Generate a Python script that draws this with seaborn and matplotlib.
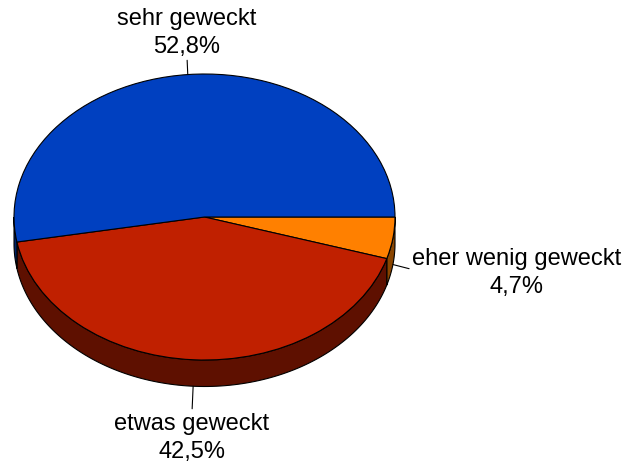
"""
3D-style pie chart: wie sehr wurde das Interesse geweckt.
"""

import numpy as np
import matplotlib
matplotlib.use('Agg')
import matplotlib.pyplot as plt
import seaborn as sns

# data
labels = ['eher wenig geweckt', 'etwas geweckt', 'sehr geweckt']
shares = [4.7, 42.5, 52.8]
value_labels = ['4,7%', '42,5%', '52,8%']
top_colors = ['#FF8000', '#C02000', '#0040C0']
side_colors = ['#8A4500', '#5E1000', '#002468']

# layout (pixels, measured from the top left corner)
W, H = 628, 464
CX, CY = 204.5, 218
RX, RY = 190.5, 143
DEPTH = 26.5 / RY
label_pos = [(517, 293), (192, 458), (187, 53)]
label_rel = [(0, 0.55), (0.5, 1), (0.5, 0)]


def lower_parts(t1, t2):
    # pieces of a wedge (degrees) that lie on the front half of the pie
    parts = []
    for lo, hi in [(-540, -360), (-180, 0), (180, 360)]:
        a, b = max(t1, lo), min(t2, hi)
        if b > a:
            parts.append((a, b))
    return parts


sns.set_style('white')
plt.rcParams['font.family'] = ['Liberation Sans', 'DejaVu Sans']
plt.rcParams['text.color'] = 'black'

fig = plt.figure(figsize=(W / 100, H / 100), dpi=100)
ax = fig.add_axes([0, 0, 1, 1])

wedges, _ = ax.pie(
    shares,
    colors=top_colors,
    startangle=0,
    counterclock=False,
    wedgeprops=dict(edgecolor='black', linewidth=0.8, zorder=3),
)
ax.set_aspect('auto')
ax.set_xlim(-CX / RX, (W - CX) / RX)
ax.set_ylim(-(H - CY) / RY, CY / RY)
ax.axis('off')

# side walls
for w, c in zip(wedges, side_colors):
    for a, b in lower_parts(w.theta1, w.theta2):
        t = np.radians(np.linspace(a, b, 120))
        x, y = np.cos(t), np.sin(t)
        ax.fill(np.r_[x, x[::-1]], np.r_[y, y[::-1] - DEPTH],
                facecolor=c, edgecolor='black', linewidth=0.8, zorder=2)

# labels with leader lines
for w, lab, val, pos, rel in zip(wedges, labels, value_labels, label_pos, label_rel):
    mid = np.radians((w.theta1 + w.theta2) / 2)
    x0, y0 = np.cos(mid), np.sin(mid)
    if y0 < 0:
        y0 -= DEPTH
    ax.annotate(
        f'{lab}\n{val}',
        xy=(x0, y0), xycoords='data',
        xytext=(pos[0], H - pos[1]), textcoords='figure pixels',
        ha='center', va='baseline', fontsize=17, linespacing=1.35,
        color='black',
        arrowprops=dict(arrowstyle='-', color='black', lw=0.8,
                        relpos=rel, shrinkA=0, shrinkB=0),
        zorder=4,
    )

plt.savefig('out.png', dpi=100)
plt.close()
